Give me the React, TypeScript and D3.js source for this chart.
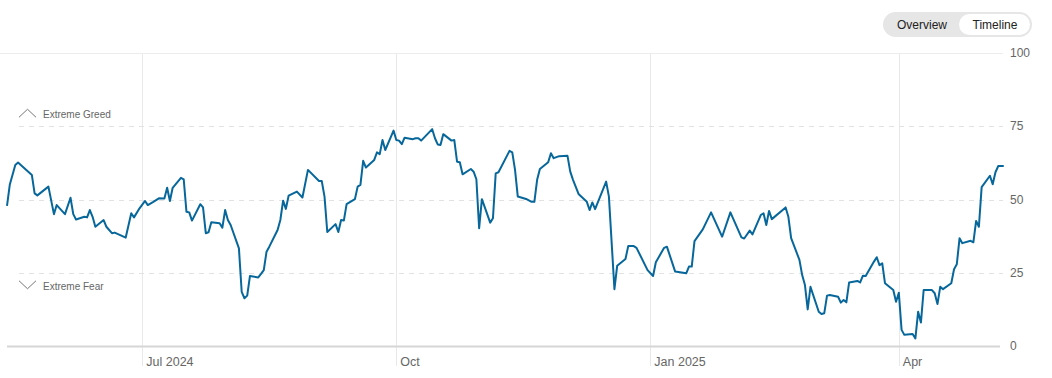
import React from 'react';
import * as d3 from 'd3';

const dates = [
  '2024-05-13','2024-05-14','2024-05-16','2024-05-17','2024-05-22','2024-05-23','2024-05-24','2024-05-28','2024-05-30','2024-05-31',
  '2024-06-03','2024-06-05','2024-06-06','2024-06-07','2024-06-10','2024-06-11','2024-06-12','2024-06-13','2024-06-14','2024-06-17',
  '2024-06-18','2024-06-20','2024-06-21','2024-06-25','2024-06-27','2024-06-28','2024-06-30','2024-07-02','2024-07-03','2024-07-05',
  '2024-07-07','2024-07-09','2024-07-10','2024-07-11','2024-07-12','2024-07-15','2024-07-16','2024-07-17','2024-07-18','2024-07-19',
  '2024-07-22','2024-07-23','2024-07-24','2024-07-25','2024-07-26','2024-07-29','2024-07-30','2024-07-31','2024-08-01','2024-08-02',
  '2024-08-05','2024-08-06','2024-08-07','2024-08-08','2024-08-09','2024-08-12','2024-08-13','2024-08-14','2024-08-15','2024-08-16',
  '2024-08-19','2024-08-20','2024-08-21','2024-08-22','2024-08-23','2024-08-26','2024-08-28','2024-08-30','2024-09-03','2024-09-04',
  '2024-09-05','2024-09-06','2024-09-09','2024-09-10','2024-09-11','2024-09-12','2024-09-13','2024-09-16','2024-09-17','2024-09-18',
  '2024-09-19','2024-09-20','2024-09-23','2024-09-24','2024-09-25','2024-09-26','2024-09-27','2024-09-30','2024-10-01','2024-10-02',
  '2024-10-03','2024-10-04','2024-10-07','2024-10-08','2024-10-09','2024-10-10','2024-10-14','2024-10-15','2024-10-16','2024-10-17',
  '2024-10-18','2024-10-21','2024-10-22','2024-10-23','2024-10-24','2024-10-25','2024-10-28','2024-10-29','2024-10-30','2024-10-31',
  '2024-11-01','2024-11-04','2024-11-05','2024-11-06','2024-11-07','2024-11-11','2024-11-12','2024-11-13','2024-11-14','2024-11-17',
  '2024-11-19','2024-11-20','2024-11-21','2024-11-22','2024-11-25','2024-11-26','2024-11-27','2024-11-29','2024-12-02','2024-12-03',
  '2024-12-04','2024-12-06','2024-12-09','2024-12-10','2024-12-11','2024-12-12','2024-12-16','2024-12-17','2024-12-19','2024-12-20',
  '2024-12-23','2024-12-24','2024-12-26','2024-12-27','2024-12-31','2025-01-02','2025-01-03','2025-01-06','2025-01-07','2025-01-10',
  '2025-01-14','2025-01-15','2025-01-16','2025-01-17','2025-01-20','2025-01-23','2025-01-27','2025-01-30','2025-02-03','2025-02-04',
  '2025-02-06','2025-02-07','2025-02-10','2025-02-11','2025-02-12','2025-02-13','2025-02-14','2025-02-19','2025-02-20','2025-02-21',
  '2025-02-24','2025-02-25','2025-02-26','2025-02-27','2025-02-28','2025-03-03','2025-03-04','2025-03-05','2025-03-06','2025-03-07',
  '2025-03-10','2025-03-11','2025-03-12','2025-03-13','2025-03-14','2025-03-17','2025-03-18','2025-03-19','2025-03-20','2025-03-23',
  '2025-03-24','2025-03-25','2025-03-26','2025-03-27','2025-03-30','2025-03-31','2025-04-01','2025-04-02','2025-04-03','2025-04-06',
  '2025-04-07','2025-04-08','2025-04-09','2025-04-10','2025-04-13','2025-04-14','2025-04-15','2025-04-16','2025-04-17','2025-04-20',
  '2025-04-21','2025-04-22','2025-04-23','2025-04-24','2025-04-27','2025-04-28','2025-04-29','2025-04-30','2025-05-01','2025-05-04',
  '2025-05-05','2025-05-06','2025-05-07','2025-05-09'
];

const values = [
  47.8, 55, 61.8, 62.6, 58.4, 52.1, 51.4, 54.4, 45, 48.1,
  45, 50.6, 45, 43.2, 44.1, 43.9, 46.4, 44.1, 40.7, 43,
  40.7, 38.5, 38.7, 37, 45.3, 43.9, 47, 49.5, 48.1, 49.2,
  50.4, 50.3, 54, 49.5, 54, 57.4, 56.9, 45.8, 45.6, 42.8,
  48.4, 47.3, 38.5, 38.8, 42.2, 41.9, 40.4, 46.4, 43, 41.3,
  33.3, 18.5, 16.3, 17.2, 23.9, 23.4, 24.6, 25.9, 32.2, 33.9,
  39.6, 43, 49.6, 46.8, 51.3, 52.7, 50.7, 60.1, 56.3, 56.3,
  51, 38.9, 41.6, 38.9, 43, 42.8, 48.4, 50.1, 54.4, 55,
  63.2, 60.9, 63.5, 66.1, 65.5, 70.3, 66.9, 73.5, 70.3, 70.1,
  68.9, 71.1, 70.6, 70.9, 70.9, 70.1, 74, 70.9, 68.8, 68.6,
  72.3, 70.1, 70.3, 62.9, 62.7, 58.6, 60.4, 59.5, 56.9, 40.2,
  50.1, 42.1, 43.6, 58.9, 59.3, 66.6, 66.1, 60.1, 51, 50.2,
  49.2, 49.2, 56.7, 60.4, 62.7, 65.8, 64.1, 64.8, 64.9, 59.5,
  56.7, 51.9, 49.2, 46.4, 49, 46.7, 56.1, 51, 19.4, 27.4,
  29.7, 34.1, 34.1, 33.5, 25.9, 23.9, 28.6, 33.5, 33.9, 25.4,
  24.8, 27.1, 27.1, 35.8, 39.8, 45.6, 37.3, 45.6, 37.1, 36.7,
  39.4, 38.1, 44.7, 45.3, 41.3, 46.1, 43.3, 47.3, 44.1, 36.8,
  29.4, 24.2, 20.8, 12.5, 20.2, 11.7, 10.9, 11.2, 17.2, 17.4,
  16.8, 14.8, 15.7, 14.9, 21.7, 22.2, 21.7, 24, 23.9, 28.8,
  30.3, 27.6, 28.2, 21.4, 19.1, 15.1, 18.2, 5.5, 3.8, 4.1,
  2.6, 11.7, 8, 19.1, 19.1, 18, 14.3, 20.2, 19.4, 21.4,
  26.2, 27.9, 36.8, 35.1, 35.9, 35.4, 42.7, 40.7, 54.2, 58.1,
  55.2, 59.3, 61.4, 61.4
];

const tickDates = ['2024-07-01', '2024-10-01', '2025-01-01', '2025-04-01'];
const tickLabels = ['Jul 2024', 'Oct', 'Jan 2025', 'Apr'];
const yTicks = [0, 25, 50, 75, 100];
const zoneLabels = ['Extreme Greed', 'Extreme Fear'];
const toggleLabels = ['Overview', 'Timeline'];

const FONT = '"Liberation Sans", Arial, sans-serif';

export default function App() {
  const parse = d3.timeParse('%Y-%m-%d');
  const x = d3
    .scaleTime()
    .domain([parse('2024-05-13') as Date, parse('2025-05-10') as Date])
    .range([7, 1006.5]);
  const y = d3.scaleLinear().domain([0, 100]).range([346, 53]);
  const data = dates.map((d, i) => ({ date: parse(d) as Date, value: values[i] }));
  const line = d3
    .line<{ date: Date; value: number }>()
    .x((d) => x(d.date))
    .y((d) => y(d.value));

  const xLeft = 7;
  const xRight = 1003;

  return (
    <svg
      width={1052}
      height={378}
      style={{ position: 'absolute', left: 0, top: 0, background: '#fff' }}
      fontFamily={FONT}
    >
      {/* toggle */}
      <rect x={883} y={12} width={149} height={25} rx={12.5} fill="#e6e6e6" />
      <rect x={959} y={14} width={71} height={21} rx={10.5} fill="#ffffff" />
      <text x={922} y={29} fontSize={12} fill="#222" textAnchor="middle">
        {toggleLabels[0]}
      </text>
      <text x={995} y={29} fontSize={12} fill="#222" textAnchor="middle">
        {toggleLabels[1]}
      </text>

      {/* vertical grid */}
      {tickDates.map((t) => {
        const xx = Math.round(x(parse(t) as Date)) + 0.5;
        return <line key={t} x1={xx} x2={xx} y1={53} y2={366} stroke="#e8e8e8" strokeWidth={1} />;
      })}

      {/* horizontal grid */}
      {yTicks.map((v) => {
        const yy = Math.round(y(v)) + 0.5;
        if (v === 0) return null;
        if (v === 100)
          return <line key={v} x1={0} x2={xRight} y1={yy} y2={yy} stroke="#ececec" strokeWidth={1} />;
        return (
          <line
            key={v}
            x1={xLeft + 12}
            x2={xRight}
            y1={yy}
            y2={yy}
            stroke="#e2e2e2"
            strokeWidth={1}
            strokeDasharray="5,5"
          />
        );
      })}

      {/* zone labels */}
      <path d={`M19,${y(75) - 9} L27.5,${y(75) - 17} L36,${y(75) - 9}`} fill="none" stroke="#777" strokeWidth={1} />
      <text x={43} y={y(75) - 8.5} fontSize={10} fill="#666">
        {zoneLabels[0]}
      </text>
      <path d={`M19,${y(25) + 8} L27.5,${y(25) + 16} L36,${y(25) + 8}`} fill="none" stroke="#777" strokeWidth={1} />
      <text x={43} y={y(25) + 17} fontSize={10} fill="#666">
        {zoneLabels[1]}
      </text>

      {/* baseline */}
      <line x1={xLeft} x2={1000} y1={y(0) + 0.5} y2={y(0) + 0.5} stroke="#d6d6d6" strokeWidth={2} />

      {/* line */}
      <path d={line(data) || ''} fill="none" stroke="#07679b" strokeWidth={2} strokeLinejoin="round" />

      {/* y labels */}
      {yTicks.map((v) => (
        <text key={v} x={1010} y={y(v) + 4} fontSize={12} fill="#666">
          {v}
        </text>
      ))}

      {/* x labels */}
      {tickDates.map((t, i) => (
        <text key={t} x={x(parse(t) as Date) + 4} y={366} fontSize={12.5} fill="#666">
          {tickLabels[i]}
        </text>
      ))}
    </svg>
  );
}
